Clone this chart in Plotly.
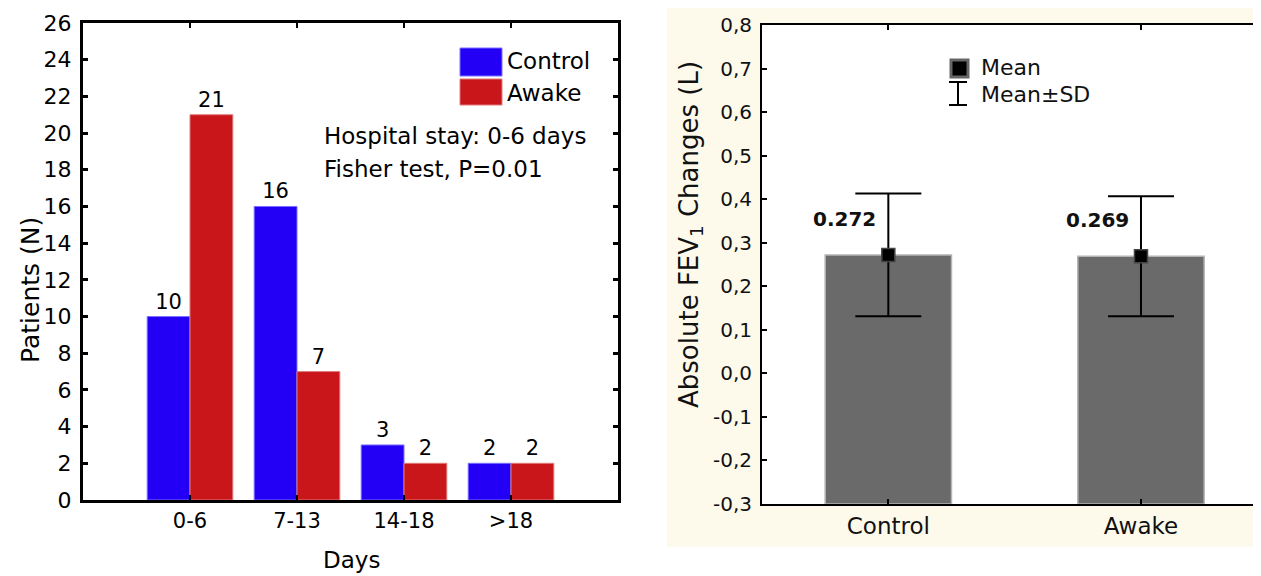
import plotly.graph_objects as go

# ---------------- data ----------------
days = ["0-6", "7-13", "14-18", ">18"]
control_n = [10, 16, 3, 2]
awake_n = [21, 7, 2, 2]
left_yticks = list(range(0, 27, 2))

groups = ["Control", "Awake"]
fev_mean = [0.272, 0.269]
fev_sd = [0.141, 0.138]
fev_labels = ["0.272", "0.269"]
right_yticks = [-0.3, -0.2, -0.1, 0.0, 0.1, 0.2, 0.3, 0.4, 0.5, 0.6, 0.7, 0.8]
right_yticktext = ["-0,3", "-0,2", "-0,1", "0,0", "0,1", "0,2", "0,3", "0,4", "0,5", "0,6", "0,7", "0,8"]
fev_bottom = -0.3

# ---------------- geometry helpers (page pixels -> paper fractions) ----------------
OFF = 8                      # page body margin
FW, FH = 1261 - OFF, 576 - OFF
def px(x):
    return min(1.0, max(0.0, (x - OFF) / FW))
def py(y):
    return min(1.0, max(0.0, 1 - (y - OFF) / FH))

FONT = "DejaVu Sans, Liberation Sans, Arial, sans-serif"
BLUE = "#2300f5"
RED = "#c8161b"

fig = go.Figure()

# left panel bars
fig.add_trace(go.Bar(
    x=days, y=control_n, name="Control", xaxis="x", yaxis="y",
    marker=dict(color=BLUE, line=dict(color="#7a70ff", width=1)),
    text=[str(v) for v in control_n], textposition="outside",
    textfont=dict(size=21, color="black", family=FONT), cliponaxis=False,
    showlegend=False))
fig.add_trace(go.Bar(
    x=days, y=awake_n, name="Awake", xaxis="x", yaxis="y",
    marker=dict(color=RED, line=dict(color="#e07a7a", width=1)),
    text=[str(v) for v in awake_n], textposition="outside",
    textfont=dict(size=21, color="black", family=FONT), cliponaxis=False,
    showlegend=False))

# right panel bars (drawn from the bottom of the axis)
fig.add_trace(go.Bar(
    x=groups, y=[m - fev_bottom for m in fev_mean], base=[fev_bottom] * len(groups),
    width=0.5, xaxis="x2", yaxis="y2",
    marker=dict(color="#6a6a6a", line=dict(color="#b4b4b4", width=1.5)),
    showlegend=False, hoverinfo="skip"))
fig.add_trace(go.Scatter(
    x=groups, y=fev_mean, mode="markers", xaxis="x2", yaxis="y2",
    marker=dict(symbol="square", size=13, color="black", line=dict(color="#444", width=1.5)),
    error_y=dict(type="data", array=fev_sd, visible=True, color="black", thickness=2, width=33),
    showlegend=False, cliponaxis=False))

axis_common = dict(showgrid=False, zeroline=False, ticks="inside",
                   linecolor="black", tickcolor="black", showline=True, automargin=False)

shapes = [
    # cream background of right panel
    dict(type="rect", xref="paper", yref="paper", x0=px(667), x1=1.0, y0=py(547), y1=py(7),
         fillcolor="#fdfaec", line=dict(width=0), layer="below"),
    # white plot area of right panel
    dict(type="rect", xref="x2 domain", yref="y2 domain", x0=0, x1=1, y0=0, y1=1,
         fillcolor="white", line=dict(width=0), layer="below"),
    # left legend keys
    dict(type="rect", xref="paper", yref="paper", x0=px(460), x1=px(502), y0=py(76), y1=py(48),
         fillcolor=BLUE, line=dict(color="#7a70ff", width=1)),
    dict(type="rect", xref="paper", yref="paper", x0=px(460), x1=px(502), y0=py(105), y1=py(79),
         fillcolor=RED, line=dict(color="#e07a7a", width=1)),
    # right legend keys
    dict(type="rect", xref="paper", yref="paper", x0=px(951), x1=px(968), y0=py(77), y1=py(60),
         fillcolor="black", line=dict(color="#666", width=3)),
    dict(type="line", xref="paper", yref="paper", x0=px(958), x1=px(958), y0=py(105), y1=py(82),
         line=dict(color="black", width=2)),
    dict(type="line", xref="paper", yref="paper", x0=px(949), x1=px(967), y0=py(82), y1=py(82),
         line=dict(color="black", width=2)),
    dict(type="line", xref="paper", yref="paper", x0=px(949), x1=px(967), y0=py(105), y1=py(105),
         line=dict(color="black", width=2)),
]

def ann(text, x, y, size, xanchor="left", angle=0, color="black"):
    return dict(text=text, x=px(x), y=py(y), xref="paper", yref="paper", xanchor=xanchor,
                yanchor="middle", textangle=angle, showarrow=False,
                font=dict(size=size, color=color, family=FONT))

annotations = [
    ann("Control", 505, 61, 23),
    ann("Awake", 505, 93, 23),
    ann("Hospital stay: 0-6 days", 322, 136, 23),
    ann("Fisher test, P=0.01", 322, 169, 23),
    ann("Patients (N)", 30, 290, 25, xanchor="center", angle=-90),
    ann("Days", 351, 560, 23, xanchor="center"),
    ann("Absolute FEV<sub>1</sub> Changes (L)", 690, 234, 26, xanchor="center", angle=-90, color="#111"),
    ann("Mean", 979, 67, 22, color="#111"),
    ann("Mean±SD", 979, 94, 22, color="#111"),
]
for g, m, lab in zip(groups, fev_mean, fev_labels):
    annotations.append(dict(text="<b>" + lab + "</b>", x=g, y=m, xref="x2", yref="y2",
                            xanchor="right", yanchor="middle", xshift=-10, yshift=36,
                            showarrow=False, font=dict(size=20, color="#111", family=FONT)))

fig.update_layout(
    template="none",
    width=FW, height=FH, autosize=False,
    margin=dict(l=0, r=0, t=0, b=0, pad=0, autoexpand=False),
    paper_bgcolor="white", plot_bgcolor="white",
    showlegend=False,
    barmode="group", bargap=0.2, bargroupgap=0,
    font=dict(family=FONT, color="black"),
    xaxis=dict(domain=[px(83), px(618)], type="category", range=[-1, 4], anchor="y",
               linewidth=3, tickwidth=2, ticklen=5, mirror="ticks",
               tickfont=dict(size=21, color="black"), **axis_common),
    yaxis=dict(domain=[py(500), py(23)], range=[0, 26], tickvals=left_yticks, anchor="x",
               linewidth=3, tickwidth=3, ticklen=5, mirror="ticks", ticklabelstandoff=4,
               tickfont=dict(size=22, color="black"), **axis_common),
    xaxis2=dict(domain=[px(762), 1.0], type="category", range=[-0.5, 1.475], anchor="y2",
                linewidth=2, tickwidth=2, ticklen=5, mirror="ticks",
                tickfont=dict(size=23, color="#111"), **axis_common),
    yaxis2=dict(domain=[py(504), py(25)], range=[-0.3, 0.8], tickvals=right_yticks,
                ticktext=right_yticktext, anchor="x2",
                linewidth=2, tickwidth=2, ticklen=5, mirror=False, ticklabelstandoff=4,
                tickfont=dict(size=20, color="#111"), **axis_common),
    shapes=shapes, annotations=annotations,
)

fig.write_html("out.html")
